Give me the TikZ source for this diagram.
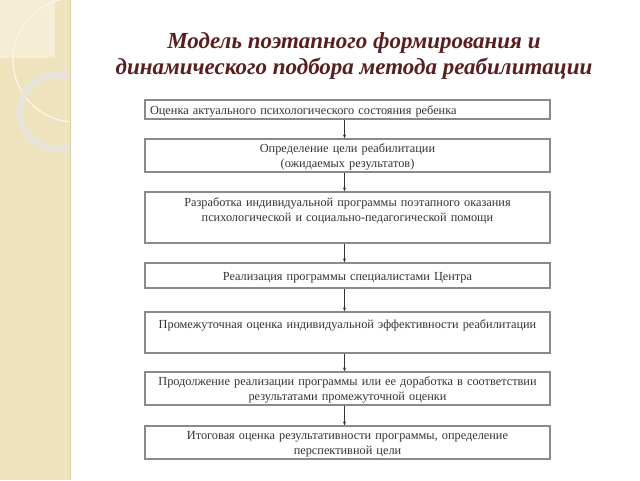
\documentclass[tikz,border=0pt]{standalone}
\usepackage{fontspec}
\setmainfont{Liberation Serif}
\usetikzlibrary{arrows.meta}
\definecolor{strip}{HTML}{EFE3BE}
\definecolor{stripedge}{HTML}{D9CBA3}
\definecolor{striplight}{HTML}{F5EDD4}
\definecolor{ringcol}{HTML}{E9E5DC}
\definecolor{titlecol}{HTML}{5A1E1E}
\definecolor{boxline}{HTML}{8A8A8A}
\definecolor{boxtext}{HTML}{333333}
\tikzset{
  stage/.style={draw=boxline, line width=1.2pt, rectangle, text=boxtext,
    text width=395pt, inner xsep=5pt, inner ysep=1pt, align=center,
    font=\fontsize{12.3pt}{15pt}\selectfont, text height=12pt},
  arr/.style={draw=black!80, line width=0.6pt, -{Stealth[length=4pt,width=3pt]}},
  titletext/.style={text=titlecol, font=\fontsize{23pt}{26pt}\selectfont\bfseries\itshape, align=center}
}
\begin{document}
\begin{tikzpicture}[x=1pt,y=-1pt]
\useasboundingbox (0,0) rectangle (640,480);
\fill[white] (0,0) rectangle (640,480);
% left decorative strip
\fill[strip] (0,0) rectangle (70,480);
\fill[striplight] (0,0) rectangle (55,58);
\begin{scope}
  \clip (0,0) rectangle (70,480);
  \draw[white!70!strip, line width=1.2pt] (75,60) circle[radius=62];
  \draw[ringcol, opacity=0.9, line width=7pt] (57,112) circle[radius=37];
\end{scope}
\draw[stripedge, line width=1pt] (70,0) -- (70,480);
% title
\node[titletext] (title) at (354,56) {Модель поэтапного формирования и\\динамического подбора метода реабилитации};
% stages
\node[stage, align=left, minimum height=19pt] (b1) at (347.5,109.5) {Оценка актуального психологического состояния ребенка};
\node[stage, minimum height=33pt] (b2) at (347.5,155.5) {Определение цели реабилитации\\(ожидаемых результатов)};
\node[stage, minimum height=51pt] (b3) at (347.5,217.5) {Разработка индивидуальной программы поэтапного оказания\\психологической и социально-педагогической помощи\\ \strut};
\node[stage, minimum height=25pt] (b4) at (347.5,275.5) {Реализация программы специалистами Центра};
\node[stage, minimum height=41pt] (b5) at (347.5,332.5) {Промежуточная оценка индивидуальной эффективности реабилитации\\ \strut};
\node[stage, minimum height=33pt] (b6) at (347.5,388.5) {Продолжение реализации программы или ее доработка в соответствии\\результатами промежуточной оценки};
\node[stage, minimum height=33pt] (b7) at (347.5,442.5) {Итоговая оценка результативности программы, определение\\перспективной цели};
% connectors
\foreach \a/\b in {b1/b2,b2/b3,b3/b4,b4/b5,b5/b6,b6/b7}
  \draw[arr] ([xshift=-3pt]\a.south) -- ([xshift=-3pt]\b.north);
\end{tikzpicture}
\end{document}
